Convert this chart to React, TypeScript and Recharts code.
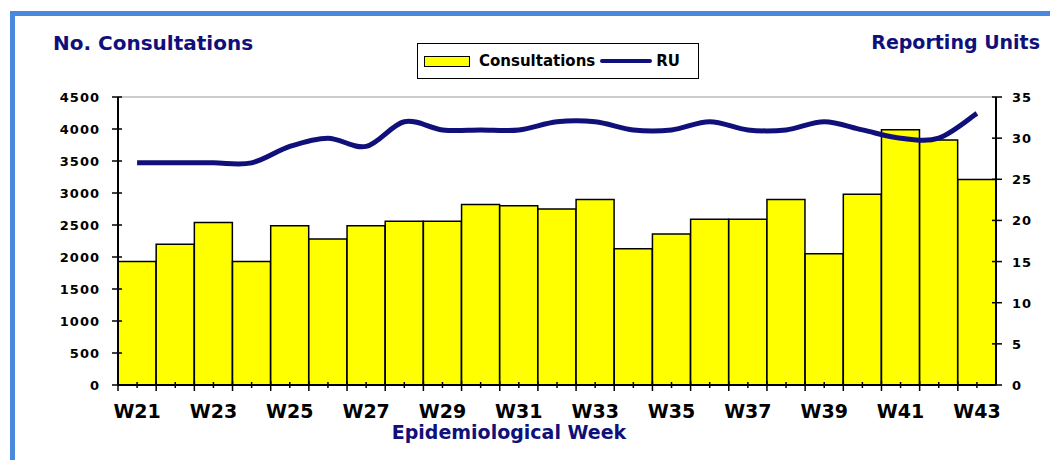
import { Bar, ComposedChart, Line, ReferenceLine, XAxis, YAxis } from 'recharts';

const weeks = ['W21', 'W22', 'W23', 'W24', 'W25', 'W26', 'W27', 'W28', 'W29', 'W30', 'W31', 'W32',
    'W33', 'W34', 'W35', 'W36', 'W37', 'W38', 'W39', 'W40', 'W41', 'W42', 'W43'];
const consultations = [1930, 2200, 2540, 1930, 2490, 2280, 2490, 2560, 2560, 2820, 2800, 2750,
    2900, 2130, 2360, 2590, 2590, 2900, 2050, 2980, 3990, 3830, 3210];
const reportingUnits = [27, 27, 27, 27, 29, 30, 29, 32, 31, 31, 31, 32,
    32, 31, 31, 32, 31, 31, 32, 31, 30, 30, 33];
const leftTicks = [0, 500, 1000, 1500, 2000, 2500, 3000, 3500, 4000, 4500];
const rightTicks = [0, 5, 10, 15, 20, 25, 30, 35];

const NAVY = '#10107a';
const FONT = '"DejaVu Sans", Verdana, sans-serif';
const PLOT_W = 878;

const data = weeks.map((w, i) => ({ week: w, consultations: consultations[i], ru: reportingUnits[i] }));

// Excel-style smoothed line (Bezier through every point)
function excelSmooth(context: any) {
    let pts: number[][] = [];
    return {
        areaStart() {},
        areaEnd() {},
        lineStart() { pts = []; },
        point(x: number, y: number) { pts.push([+x, +y]); },
        lineEnd() {
            if (!pts.length) return;
            context.moveTo(pts[0][0], pts[0][1]);
            for (let i = 0; i < pts.length - 1; i++) {
                const p0 = pts[Math.max(0, i - 1)];
                const p1 = pts[i];
                const p2 = pts[i + 1];
                const p3 = pts[Math.min(pts.length - 1, i + 2)];
                context.bezierCurveTo(
                    p1[0] + (p2[0] - p0[0]) / 6, p1[1] + (p2[1] - p0[1]) / 6,
                    p2[0] - (p3[0] - p1[0]) / 6, p2[1] - (p3[1] - p1[1]) / 6,
                    p2[0], p2[1]
                );
            }
        },
    };
}

const WeekTick = (props: any) => {
    const { x, y, payload, index } = props;
    const axisY = y - 20;
    const band = PLOT_W / weeks.length;
    return (
        <g>
            <line x1={x} x2={x} y1={axisY - 3} y2={axisY + 3} stroke="#000" strokeWidth={1.5} />
            <line x1={x - band / 2} x2={x - band / 2} y1={axisY - 4} y2={axisY + 6} stroke="#000" strokeWidth={1.5} />
            {index % 2 === 0 && (
                <text x={x} y={axisY + 33} textAnchor="middle" fontFamily={FONT} fontWeight="bold" fontSize={19} fill="#000">
                    {payload.value}
                </text>
            )}
        </g>
    );
};

const LeftTick = (props: any) => {
    const { x, y, payload } = props;
    const axisX = x + 18;
    return (
        <g>
            <line x1={axisX - 6} x2={axisX + 4} y1={y} y2={y} stroke="#000" strokeWidth={1.5} />
            <text x={axisX - 18} y={y + 5} textAnchor="end" fontFamily={FONT} fontWeight="bold" fontSize={13} letterSpacing={1} fill="#000">
                {payload.value}
            </text>
        </g>
    );
};

const RightTick = (props: any) => {
    const { x, y, payload } = props;
    const axisX = x - 16;
    return (
        <g>
            <line x1={axisX - 4} x2={axisX + 6} y1={y} y2={y} stroke="#000" strokeWidth={1.5} />
            <text x={axisX + 16} y={y + 5} textAnchor="start" fontFamily={FONT} fontWeight="bold" fontSize={13} letterSpacing={1} fill="#000">
                {payload.value}
            </text>
        </g>
    );
};

export default function App() {
    return (
        <div style={{ position: 'absolute', left: 0, top: 0, width: 1050, height: 460, background: '#fff', fontFamily: FONT }}>
            {/* blue frame */}
            <div style={{ position: 'absolute', left: 10, top: 11, width: 1040, height: 5, background: '#4a88e0' }} />
            <div style={{ position: 'absolute', left: 10, top: 11, width: 5, height: 449, background: '#4a88e0' }} />

            <div style={{ position: 'absolute', left: 53, top: 31, color: NAVY, fontWeight: 'bold', fontSize: 20 }}>
                No. Consultations
            </div>
            <div style={{ position: 'absolute', right: 10, top: 31, color: NAVY, fontWeight: 'bold', fontSize: 19 }}>
                Reporting Units
            </div>

            {/* legend */}
            <div style={{
                position: 'absolute', left: 417, top: 43, width: 282, height: 36, border: '1.5px solid #000',
                display: 'flex', alignItems: 'center', fontWeight: 'bold', fontSize: 15, color: '#000', boxSizing: 'border-box',
            }}>
                <span style={{ display: 'inline-block', width: 44, height: 9, background: '#ffff00', border: '1px solid #000', marginLeft: 6 }} />
                <span style={{ marginLeft: 9 }}>Consultations</span>
                <span style={{ display: 'inline-block', width: 52, height: 4, background: NAVY, borderRadius: 2, marginLeft: 5 }} />
                <span style={{ marginLeft: 4 }}>RU</span>
            </div>

            <div style={{ position: 'absolute', left: 0, top: 0 }}>
                <ComposedChart width={1050} height={460} data={data} barCategoryGap={0}
                    margin={{ top: 97, right: 4, left: 18, bottom: 45 }}>
                    <XAxis dataKey="week" interval={0} height={30} tickSize={6} tickMargin={14}
                        tickLine={false} axisLine={{ stroke: '#000', strokeWidth: 2 }} tick={<WeekTick />} />
                    <YAxis yAxisId="left" orientation="left" width={100} domain={[0, 4500]} ticks={leftTicks}
                        tickSize={6} tickMargin={12} tickLine={false} axisLine={{ stroke: '#000', strokeWidth: 2 }}
                        tick={<LeftTick />} allowDataOverflow />
                    <YAxis yAxisId="right" orientation="right" width={50} domain={[0, 35]} ticks={rightTicks}
                        tickSize={6} tickMargin={10} tickLine={false} axisLine={{ stroke: '#000', strokeWidth: 2 }}
                        tick={<RightTick />} allowDataOverflow />
                    <ReferenceLine yAxisId="left" y={4500} stroke="#999" strokeWidth={1} />
                    <Bar yAxisId="left" dataKey="consultations" fill="#ffff00" stroke="#000" strokeWidth={1.5}
                        isAnimationActive={false} />
                    <Line yAxisId="right" dataKey="ru" type={excelSmooth as any} stroke={NAVY} strokeWidth={5}
                        dot={false} activeDot={false} isAnimationActive={false} />
                </ComposedChart>
            </div>

            <div style={{ position: 'absolute', left: 0, width: 1018, top: 421, textAlign: 'center', color: NAVY, fontWeight: 'bold', fontSize: 19 }}>
                Epidemiological Week
            </div>
        </div>
    );
}
